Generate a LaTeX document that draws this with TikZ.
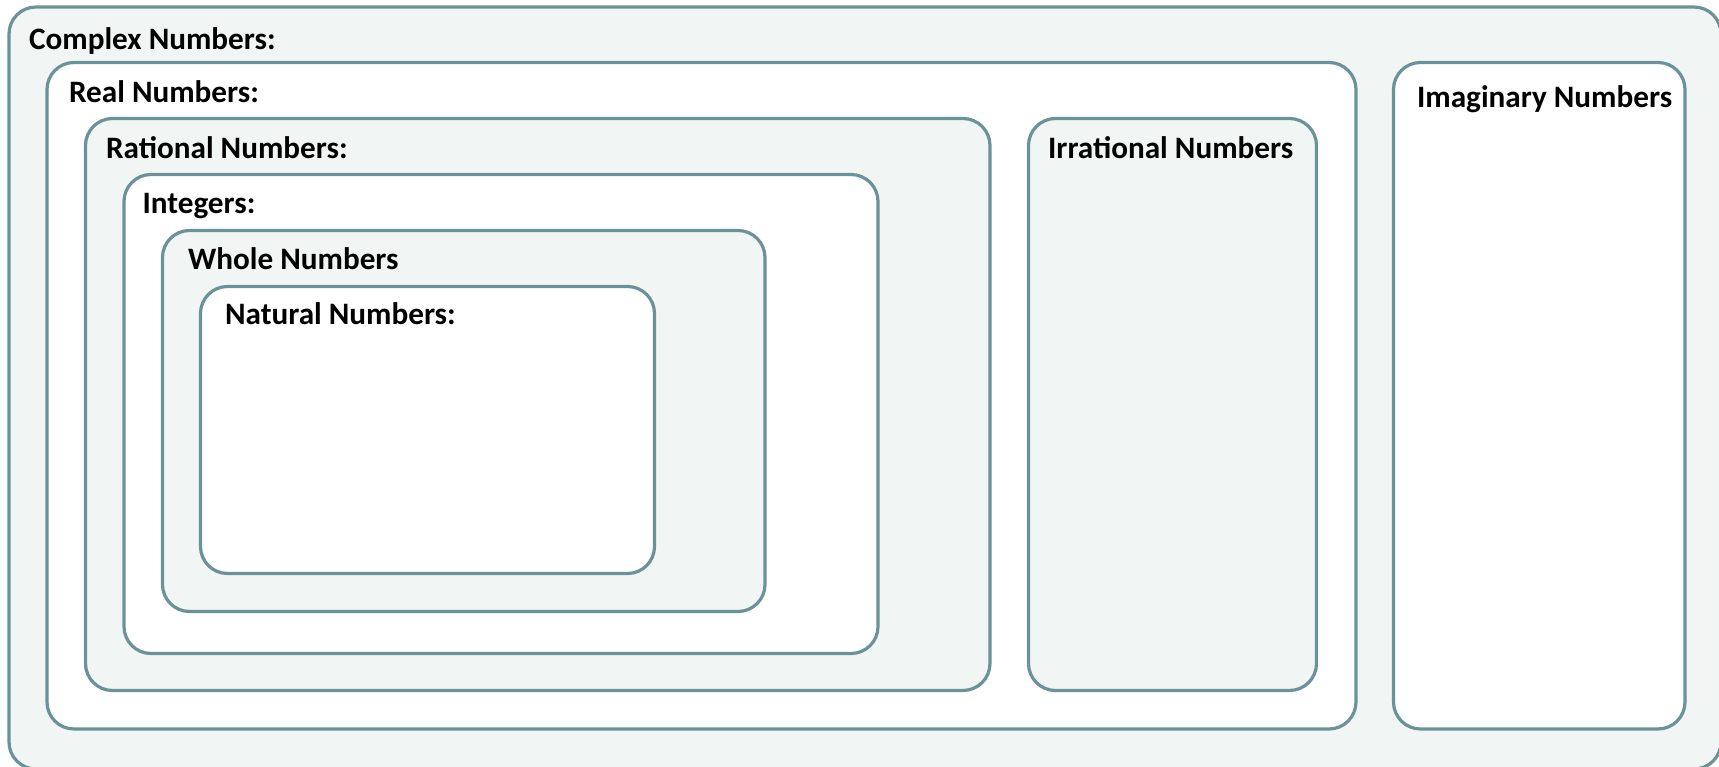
\documentclass[tikz,border=0pt]{standalone}
\usepackage{fontspec}
\setmainfont{Carlito}
\usetikzlibrary{positioning}

\definecolor{setline}{HTML}{6A9399}
\definecolor{setfill}{HTML}{F1F5F4}

\begin{document}
\begin{tikzpicture}[x = 1pt, y = -1pt, % one unit is one pixel, y going down
                line width = 3.2pt
            ]

            \tikzstyle{box}=[draw = setline, rounded corners = 27pt]
            \tikzstyle{shaded}=[box, fill = setfill]
            \tikzstyle{plain}=[box, fill = white]
            \tikzstyle{title}=[anchor = base west, inner sep = 0pt,
            font = \bfseries\fontsize{31.2}{38}\selectfont]

            \useasboundingbox (0,0) rectangle (1719,767);

            % the sets, outermost first
            \draw[shaded] (9,7) rectangle (1721,769);
            \draw[plain] (47,62.5) rectangle (1356,729);
            \draw[shaded] (85.5,118.5) rectangle (990,690.5);
            \draw[plain] (124,174.5) rectangle (878,653.5);
            \draw[shaded] (162.5,230.5) rectangle (765,611.5);
            \draw[plain] (200.5,286.5) rectangle (654.5,573.5);
            \draw[shaded] (1028.5,118.5) rectangle (1316.5,690.5);
            \draw[plain] (1393.5,62.5) rectangle (1685,729);

            % the names
            \node[title] (complex) at (27.5,50) {Complex Numbers:};
            \node[title] (real) at (67.5,103) {Real Numbers:};
            \node[title] (rational) at (104.5,158.5) {Rational Numbers:};
            \node[title] (integers) at (141,214) {Integers:};
            \node[title] (whole) at (186.5,269.5) {Whole Numbers};
            \node[title] (natural) at (223.5,325) {Natural Numbers:};
            \node[title] (irrational) at (1046.5,158.5) {Irrational Numbers};
            \node[title] (imaginary) at (1415.5,107.5) {Imaginary Numbers};
        \end{tikzpicture}
\end{document}
